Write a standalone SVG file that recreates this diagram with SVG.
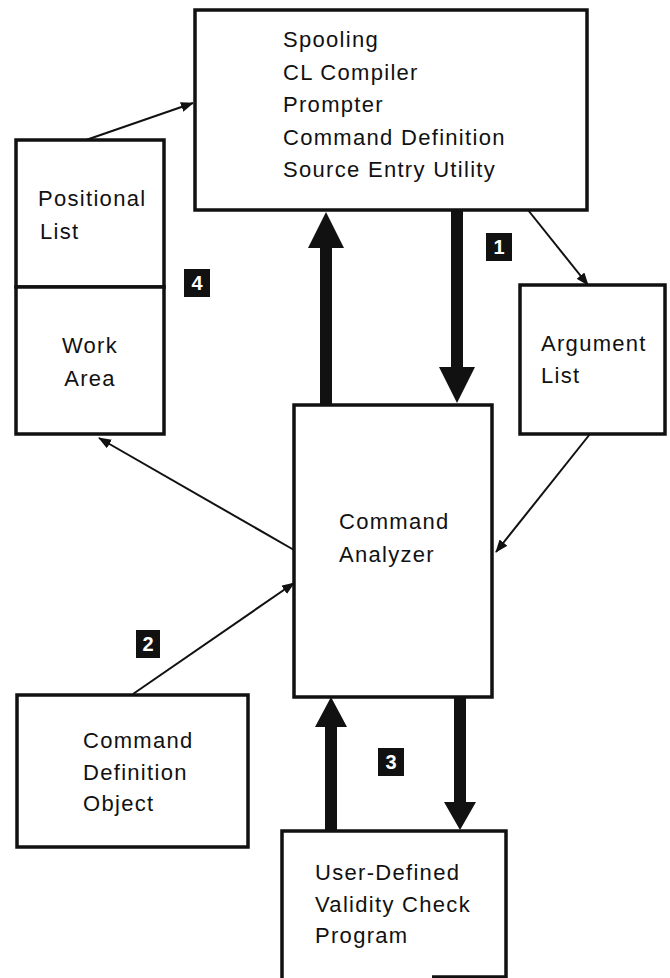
<svg xmlns="http://www.w3.org/2000/svg" width="670" height="978" viewBox="0 0 670 978">
<defs>
<style>
.box{fill:#fff;stroke:#111;stroke-width:3.5}
.t{font-family:"Liberation Sans",Arial,sans-serif;font-size:22px;fill:#111;letter-spacing:1.3px}
.thin{fill:none;stroke:#111;stroke-width:2;marker-end:url(#ah)}
.thick{fill:#111;stroke:none}
.badge rect{fill:#111}
.badge text{font-family:"Liberation Sans",Arial,sans-serif;font-size:20px;font-weight:bold;fill:#fff;text-anchor:middle}
</style>
<marker id="ah" markerUnits="userSpaceOnUse" markerWidth="14" markerHeight="10" refX="12" refY="5" orient="auto">
<path d="M0,0 L13,5 L0,10 Z" fill="#111"/>
</marker>
</defs>
<rect width="670" height="978" fill="#fff"/>

<g id="connectors">
<path class="thick" d="M320,405 L320,248 L308,248 L326,212 L344,248 L332,248 L332,405 Z"/>
<path class="thick" d="M451,210 L463,210 L463,367 L475,367 L457,403 L439,367 L451,367 Z"/>
<path class="thick" d="M325,830 L325,727 L315,727 L331,697 L347,727 L337,727 L337,830 Z"/>
<path class="thick" d="M454,697 L466,697 L466,802 L476,802 L460,830 L444,802 L454,802 Z"/>
<line class="thin" x1="86" y1="140" x2="193" y2="103"/>
<line class="thin" x1="528" y1="210" x2="588" y2="285"/>
<line class="thin" x1="294" y1="550" x2="99" y2="438"/>
<line class="thin" x1="590" y1="434" x2="496" y2="552"/>
<line class="thin" x1="133" y1="694" x2="294" y2="583"/>
</g>

<g id="top">
<rect class="box" x="195" y="10" width="392" height="200"/>
<text class="t" x="283" y="47">Spooling</text>
<text class="t" x="283" y="80">CL Compiler</text>
<text class="t" x="283" y="112">Prompter</text>
<text class="t" x="283" y="145">Command Definition</text>
<text class="t" x="283" y="177">Source Entry Utility</text>
</g>

<g id="positional">
<rect class="box" x="16" y="140" width="148" height="147"/>
<text class="t" x="38" y="206">Positional</text>
<text class="t" x="40" y="239">List</text>
</g>

<g id="workarea">
<rect class="box" x="16" y="287" width="148" height="147"/>
<text class="t" x="90" y="353" text-anchor="middle">Work</text>
<text class="t" x="90" y="386" text-anchor="middle">Area</text>
</g>

<g id="argument">
<rect class="box" x="520" y="285" width="145" height="149"/>
<text class="t" x="541" y="351">Argument</text>
<text class="t" x="541" y="383">List</text>
</g>

<g id="analyzer">
<rect class="box" x="294" y="405" width="198" height="292"/>
<text class="t" x="339" y="529">Command</text>
<text class="t" x="339" y="562">Analyzer</text>
</g>

<g id="cdo">
<rect class="box" x="17" y="695" width="231" height="152"/>
<text class="t" x="83" y="748">Command</text>
<text class="t" x="83" y="780">Definition</text>
<text class="t" x="83" y="811">Object</text>
</g>

<g id="udvc">
<path class="box" d="M282,978 L282,831 L506,831 L506,978 M432,977 L506,977" fill="none"/>
<text class="t" x="315" y="880">User-Defined</text>
<text class="t" x="315" y="912">Validity Check</text>
<text class="t" x="315" y="943">Program</text>
</g>

<g id="badge1" class="badge"><rect x="486" y="233" width="26" height="28"/><text x="499" y="254">1</text></g>
<g id="badge4" class="badge"><rect x="184" y="269" width="26" height="28"/><text x="197" y="290">4</text></g>
<g id="badge2" class="badge"><rect x="136" y="630" width="24" height="28"/><text x="148" y="651">2</text></g>
<g id="badge3" class="badge"><rect x="378" y="748" width="26" height="28"/><text x="391" y="769">3</text></g>
</svg>
